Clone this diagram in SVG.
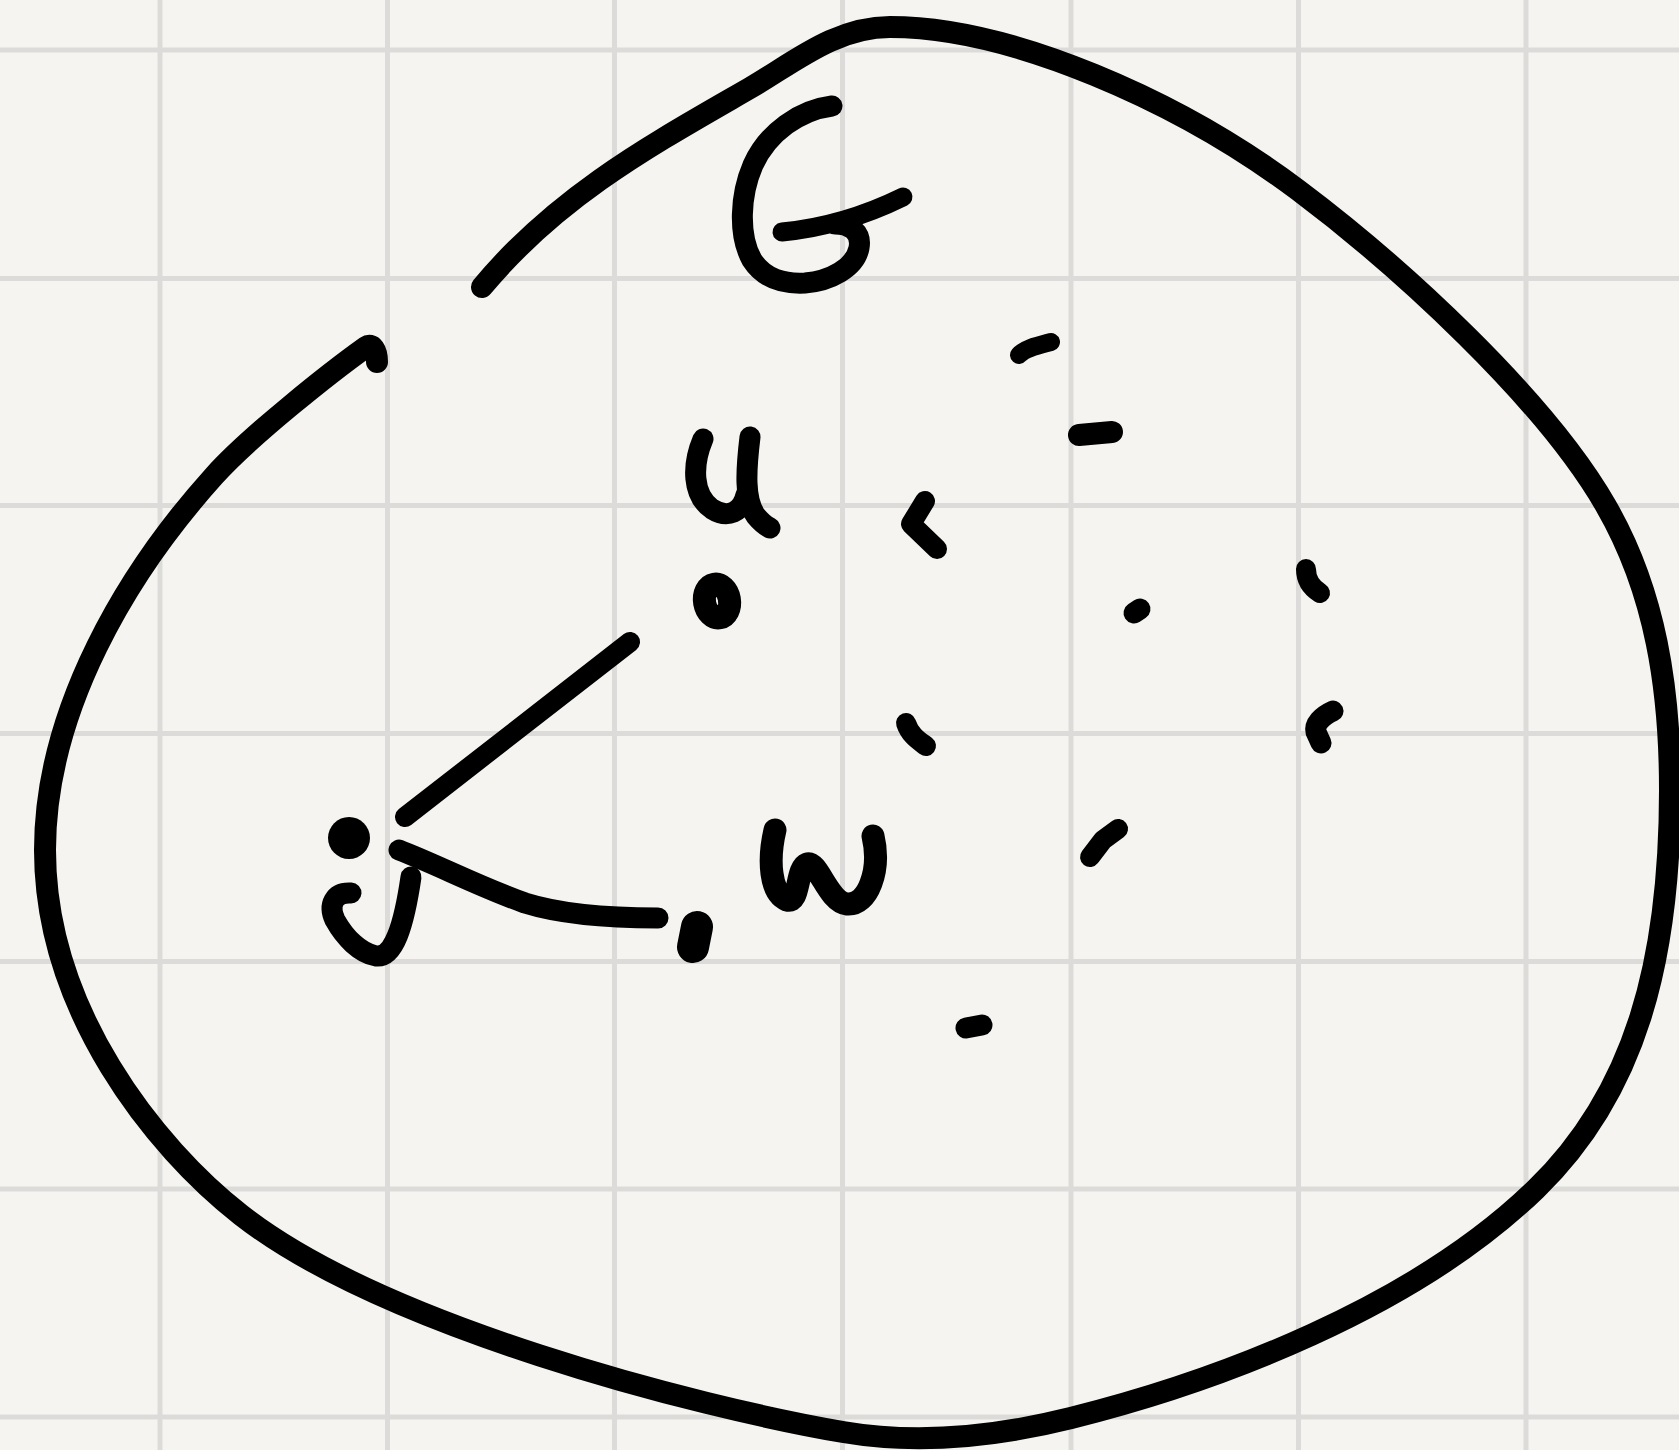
<svg xmlns="http://www.w3.org/2000/svg" width="1679" height="1450" viewBox="0 0 1679 1450">
<style>
.grid line{stroke:#dcdbd9;stroke-width:5}
.ink{fill:none;stroke:#000;stroke-linecap:round;stroke-linejoin:round}
.blob{fill:#000}
</style>
<rect width="1679" height="1450" fill="#f5f4f0"/>
<g class="grid">
<line x1="160" y1="0" x2="160" y2="1450"/>
<line x1="387.5" y1="0" x2="387.5" y2="1450"/>
<line x1="614.5" y1="0" x2="614.5" y2="1450"/>
<line x1="842.5" y1="0" x2="842.5" y2="1450"/>
<line x1="1071" y1="0" x2="1071" y2="1450"/>
<line x1="1298.5" y1="0" x2="1298.5" y2="1450"/>
<line x1="1526" y1="0" x2="1526" y2="1450"/>
<line x1="0" y1="50" x2="1679" y2="50"/>
<line x1="0" y1="278.5" x2="1679" y2="278.5"/>
<line x1="0" y1="505.5" x2="1679" y2="505.5"/>
<line x1="0" y1="733.5" x2="1679" y2="733.5"/>
<line x1="0" y1="961.5" x2="1679" y2="961.5"/>
<line x1="0" y1="1189" x2="1679" y2="1189"/>
<line x1="0" y1="1417" x2="1679" y2="1417"/>
</g>
<g id="graph-G">
<path class="ink" stroke-width="22" d="M482,287 C558.8,194.6 654.7,143 750,88 C793.3,63 835,27 890,27 C1010,27 1178,100 1298,190 C1398,265 1544,398 1606,506 C1656,592.6 1670,690 1670,790 C1670,960 1636,1092 1536,1189 C1413.6,1308 1216.5,1381.7 1071,1418 C997.3,1436.4 917.9,1444.9 843,1432 C695.3,1406.5 382.8,1325.9 241,1215 C154.3,1147.2 45,1010 45,850 C45,710 127,572.6 214,476 C250.8,435.1 333.4,370.2 366,347 C372,342.7 377,350 377,362"/>
</g>
<g id="label-G">
<path class="ink" stroke-width="21" d="M832,106 C800,110 768,132 753,165 C740,195 738,235 752,260 C765,280 785,284 805,283 C830,281 855,268 859,248 C862,232 850,224 835,224"/>
<path class="ink" stroke-width="19" d="M782,232 Q844,226 903,197"/>
</g>
<g id="connectors">
<path class="ink" stroke-width="20" d="M630,642 L405,817"/>
<path class="ink" stroke-width="21" d="M399,850 C440,866 480,887 525,903 C560,914 610,918 658,918"/>
</g>
<g id="node-u">
<path class="ink" stroke-width="21" d="M703,439 C692,465 692,495 712,509 C728,519 742,512 746,495"/>
<path class="ink" stroke-width="21" d="M750,437 C746,470 744,500 756,516 C761,522 766,526 770,528"/>
<ellipse class="ink" cx="717" cy="601" rx="12.5" ry="17" stroke-width="23" transform="rotate(-10 717 601)"/>
</g>
<g id="node-v">
<circle class="blob" cx="349" cy="838" r="21"/>
<path class="ink" stroke-width="21" d="M351,893 C334,892 328,905 335,920 C345,938 360,953 376,956 C394,958 404,925 411,877"/>
</g>
<g id="node-w">
<path class="ink" stroke-width="32" d="M697,927 L693,947"/>
<path class="ink" stroke-width="23" d="M775,830 C768,860 770,893 787,900 C800,904 796,868 807,864 C818,860 828,902 847,904 C868,906 881,870 873,836"/>
</g>
<g id="other-vertices">
<path class="ink" stroke-width="18" d="M1019,355 C1025,348 1040,345 1051,342"/>
<path class="ink" stroke-width="22" d="M1079,435 L1112,432"/>
<path class="ink" stroke-width="20" d="M925,501 L911,524 L937,549"/>
<path class="ink" stroke-width="21" d="M1134,613 L1140,609"/>
<path class="ink" stroke-width="20" d="M1306,569 C1306,580 1312,588 1320,593"/>
<path class="ink" stroke-width="21" d="M1333,711 C1322,716 1314,724 1316,732 L1321,743"/>
<path class="ink" stroke-width="20" d="M906,723 C910,735 918,740 926,746"/>
<path class="ink" stroke-width="20" d="M1118,829 L1103,840 L1090,857"/>
<path class="ink" stroke-width="21" d="M966,1028 L982,1025"/>
</g>
</svg>
